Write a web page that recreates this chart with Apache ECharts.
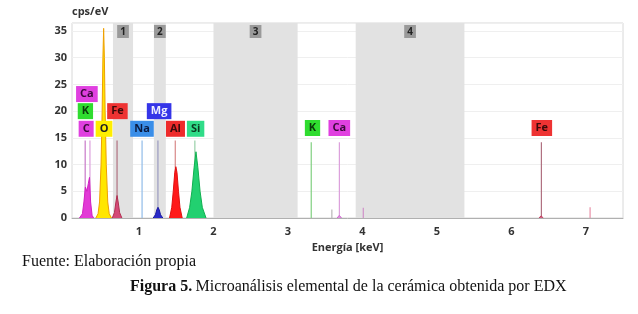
<!DOCTYPE html>
<html><head><meta charset="utf-8">
<script src="https://cdn.jsdelivr.net/npm/echarts@6/dist/echarts.min.js"></script>
<style>html,body{margin:0;padding:0;background:#fff}#c{width:638px;height:314px}</style>
</head><body><div id="c"></div>
<script>
// ---- data ----
const xTicks = [1, 2, 3, 4, 5, 6, 7];
const peakC  = [[0.20,0],[0.24,0.8],[0.26,3],[0.28,5.8],[0.30,5],[0.32,6.5],[0.335,7.6],[0.35,3],[0.37,0.5],[0.39,0]];
const peakO  = [[0.42,0],[0.45,0.8],[0.47,3],[0.49,10],[0.505,20],[0.515,30],[0.525,35.5],[0.535,30],[0.545,20],[0.56,10],[0.58,3],[0.60,0.8],[0.63,0]];
const peakFeL= [[0.64,0],[0.67,1],[0.69,3],[0.705,4.2],[0.72,3],[0.74,1],[0.77,0]];
const peakMg = [[1.19,0],[1.22,0.6],[1.24,1.6],[1.255,2.0],[1.27,1.6],[1.29,0.6],[1.32,0]];
const peakAl = [[1.41,0],[1.44,2],[1.46,5],[1.48,8.5],[1.495,9.6],[1.51,8.5],[1.53,5],[1.55,2],[1.58,0]];
const peakSi = [[1.64,0],[1.68,2],[1.71,5],[1.74,9.5],[1.765,12.4],[1.79,9.5],[1.82,5],[1.85,2],[1.90,0]];
const peakCaK= [[3.66,0],[3.69,0.5],[3.72,0]];
const peakFeK= [[6.37,0],[6.40,0.4],[6.43,0]];

const bandNames = ['1', '2', '3', '4'];
const bandStart = [0.65, 1.20, 2.00, 3.91];
const bandEnd   = [0.92, 1.36, 3.13, 5.37];

const lineElements = ['C', 'Ca', 'O', 'Fe', 'Na', 'Mg', 'Al', 'Si', 'K', 'Kminor', 'Ca', 'Caminor', 'Fe', 'Feminor'];
const lineEnergies = [0.277, 0.341, 0.525, 0.705, 1.041, 1.254, 1.487, 1.75, 3.313, 3.59, 3.691, 4.012, 6.404, 7.058];
const lineTops     = [14.5, 14.5, 14.5, 14.5, 14.5, 14.5, 14.5, 14.5, 14.2, 1.6, 14.2, 1.9, 14.2, 2.0];

const labelNames    = ['Ca', 'K', 'C', 'O', 'Fe', 'Na', 'Mg', 'Al', 'Si', 'K', 'Ca', 'Fe'];
const labelEnergies = [0.30, 0.28, 0.29, 0.53, 0.71, 1.04, 1.27, 1.49, 1.76, 3.33, 3.69, 6.41];
const labelLevels   = [23.2, 20.0, 16.7, 16.7, 20.0, 16.7, 20.0, 16.7, 16.7, 16.85, 16.85, 16.85];

// ---- styles ----
const boxStyle = {
  Ca: {bg: '#e040e0', fg: '#3a0a3a'},
  K:  {bg: '#2fdc2f', fg: '#0a3a0a'},
  C:  {bg: '#e040e0', fg: '#3a0a3a'},
  O:  {bg: '#ffee00', fg: '#222'},
  Fe: {bg: '#ee3333', fg: '#3a0a0a'},
  Na: {bg: '#3a8ee8', fg: '#0a1a40'},
  Mg: {bg: '#3535e8', fg: '#eef'},
  Al: {bg: '#ee2b2b', fg: '#3a0a0a'},
  Si: {bg: '#30dc88', fg: '#0a3a20'}
};
const lineColor = {
  C: '#c878c8', Ca: '#dca0dc', O: '#e0b000', Fe: '#b07080', Na: '#90bce8', Mg: '#9a9ac0',
  Al: '#d88888', Si: '#98d0a8', K: '#80d080', Kminor: '#b8b8b8', Caminor: '#d090c8', Feminor: '#e890a8'
};
const peakStyle = [
  {d: peakC,   line: '#d020c0', area: '#e23ad6'},
  {d: peakO,   line: '#eea000', area: '#ffe600'},
  {d: peakFeL, line: '#b03050', area: '#d44a78'},
  {d: peakMg,  line: '#1a1aa0', area: '#2a2ac8'},
  {d: peakAl,  line: '#e01010', area: '#ff1a1a'},
  {d: peakSi,  line: '#10b050', area: '#22d070'},
  {d: peakCaK, line: '#d070d0', area: '#e090e0'},
  {d: peakFeK, line: '#c04060', area: '#d06080'}
];

const series = [];
series.push({
  type: 'line', data: [[0.1, 0]], showSymbol: false, silent: true, lineStyle: {width: 0}, z: 1,
  markArea: {
    silent: true,
    itemStyle: {color: '#e2e2e2'},
    label: {show: true, position: 'insideTop', distance: 2, backgroundColor: '#9a9a9a', color: '#222',
            fontWeight: 'bold', fontSize: 10, padding: [2, 3, 1, 3], fontFamily: 'Open Sans'},
    data: bandNames.map((n, i) => [{name: n, xAxis: bandStart[i]}, {xAxis: bandEnd[i]}])
  }
});
lineElements.forEach((el, i) => {
  series.push({
    type: 'line', showSymbol: false, silent: true, z: 2,
    data: [[lineEnergies[i], 0], [lineEnergies[i], lineTops[i]]],
    lineStyle: {color: lineColor[el], width: 1.2}
  });
});
peakStyle.forEach(p => {
  series.push({
    type: 'line', showSymbol: false, silent: true, z: 3, data: p.d,
    lineStyle: {color: p.line, width: 1}, areaStyle: {color: p.area, opacity: 1}
  });
});
series.push({
  type: 'scatter', symbolSize: 1, itemStyle: {color: 'rgba(0,0,0,0)', opacity: 1}, z: 5, silent: true,
  data: labelNames.map((n, i) => ({
    value: [labelEnergies[i], labelLevels[i]],
    label: {show: true, position: 'inside', formatter: n, backgroundColor: boxStyle[n].bg,
            color: boxStyle[n].fg, fontWeight: 'bold', fontSize: 11, lineHeight: 10,
            padding: [3, 4], fontFamily: 'Open Sans', opacity: 1}
  }))
});

const chart = echarts.init(document.getElementById('c'), null, {renderer: 'canvas'});
chart.setOption({
  animation: false,
  backgroundColor: '#fff',
  grid: {left: 72, right: 15, top: 23, bottom: 96, show: true, borderColor: '#d8d8d8', borderWidth: 1, backgroundColor: 'transparent'},
  xAxis: {
    type: 'value', min: 0.1, max: 7.5,
    name: 'Energía [keV]', nameLocation: 'middle', nameGap: 24,
    nameTextStyle: {fontWeight: 'bold', fontSize: 11, color: '#333', fontFamily: 'Open Sans'},
    axisLine: {show: true, lineStyle: {color: '#b0b0b0'}},
    axisTick: {show: false},
    splitLine: {show: false},
    axisLabel: {customValues: xTicks, fontWeight: 'bold', fontSize: 11, color: '#333', margin: 8, fontFamily: 'Open Sans'}
  },
  yAxis: {
    type: 'value', min: 0, max: 36.5, interval: 5,
    name: 'cps/eV', nameLocation: 'end', nameGap: 6,
    nameTextStyle: {fontWeight: 'bold', fontSize: 11, color: '#333', align: 'left', fontFamily: 'Open Sans'},
    axisLine: {show: false}, axisTick: {show: false},
    splitLine: {show: true, lineStyle: {color: '#efefef'}},
    axisLabel: {fontWeight: 'bold', fontSize: 11, color: '#333', margin: 5, fontFamily: 'Open Sans',
                formatter: v => (v <= 35 ? String(v) : '')}
  },
  series: series,
  graphic: [
    {type: 'text', left: 22, top: 254, style: {text: 'Fuente: Elaboración propia', font: '16px "Liberation Serif"', fill: '#111'}},
    {type: 'text', left: 130, top: 279, style: {
      text: '{b|Figura 5.} {r|Microanálisis elemental de la cerámica obtenida por EDX}',
      rich: {b: {font: 'bold 16px "Liberation Serif"', fill: '#111'}, r: {font: '16px "Liberation Serif"', fill: '#111'}}
    }}
  ]
});
</script></body></html>
